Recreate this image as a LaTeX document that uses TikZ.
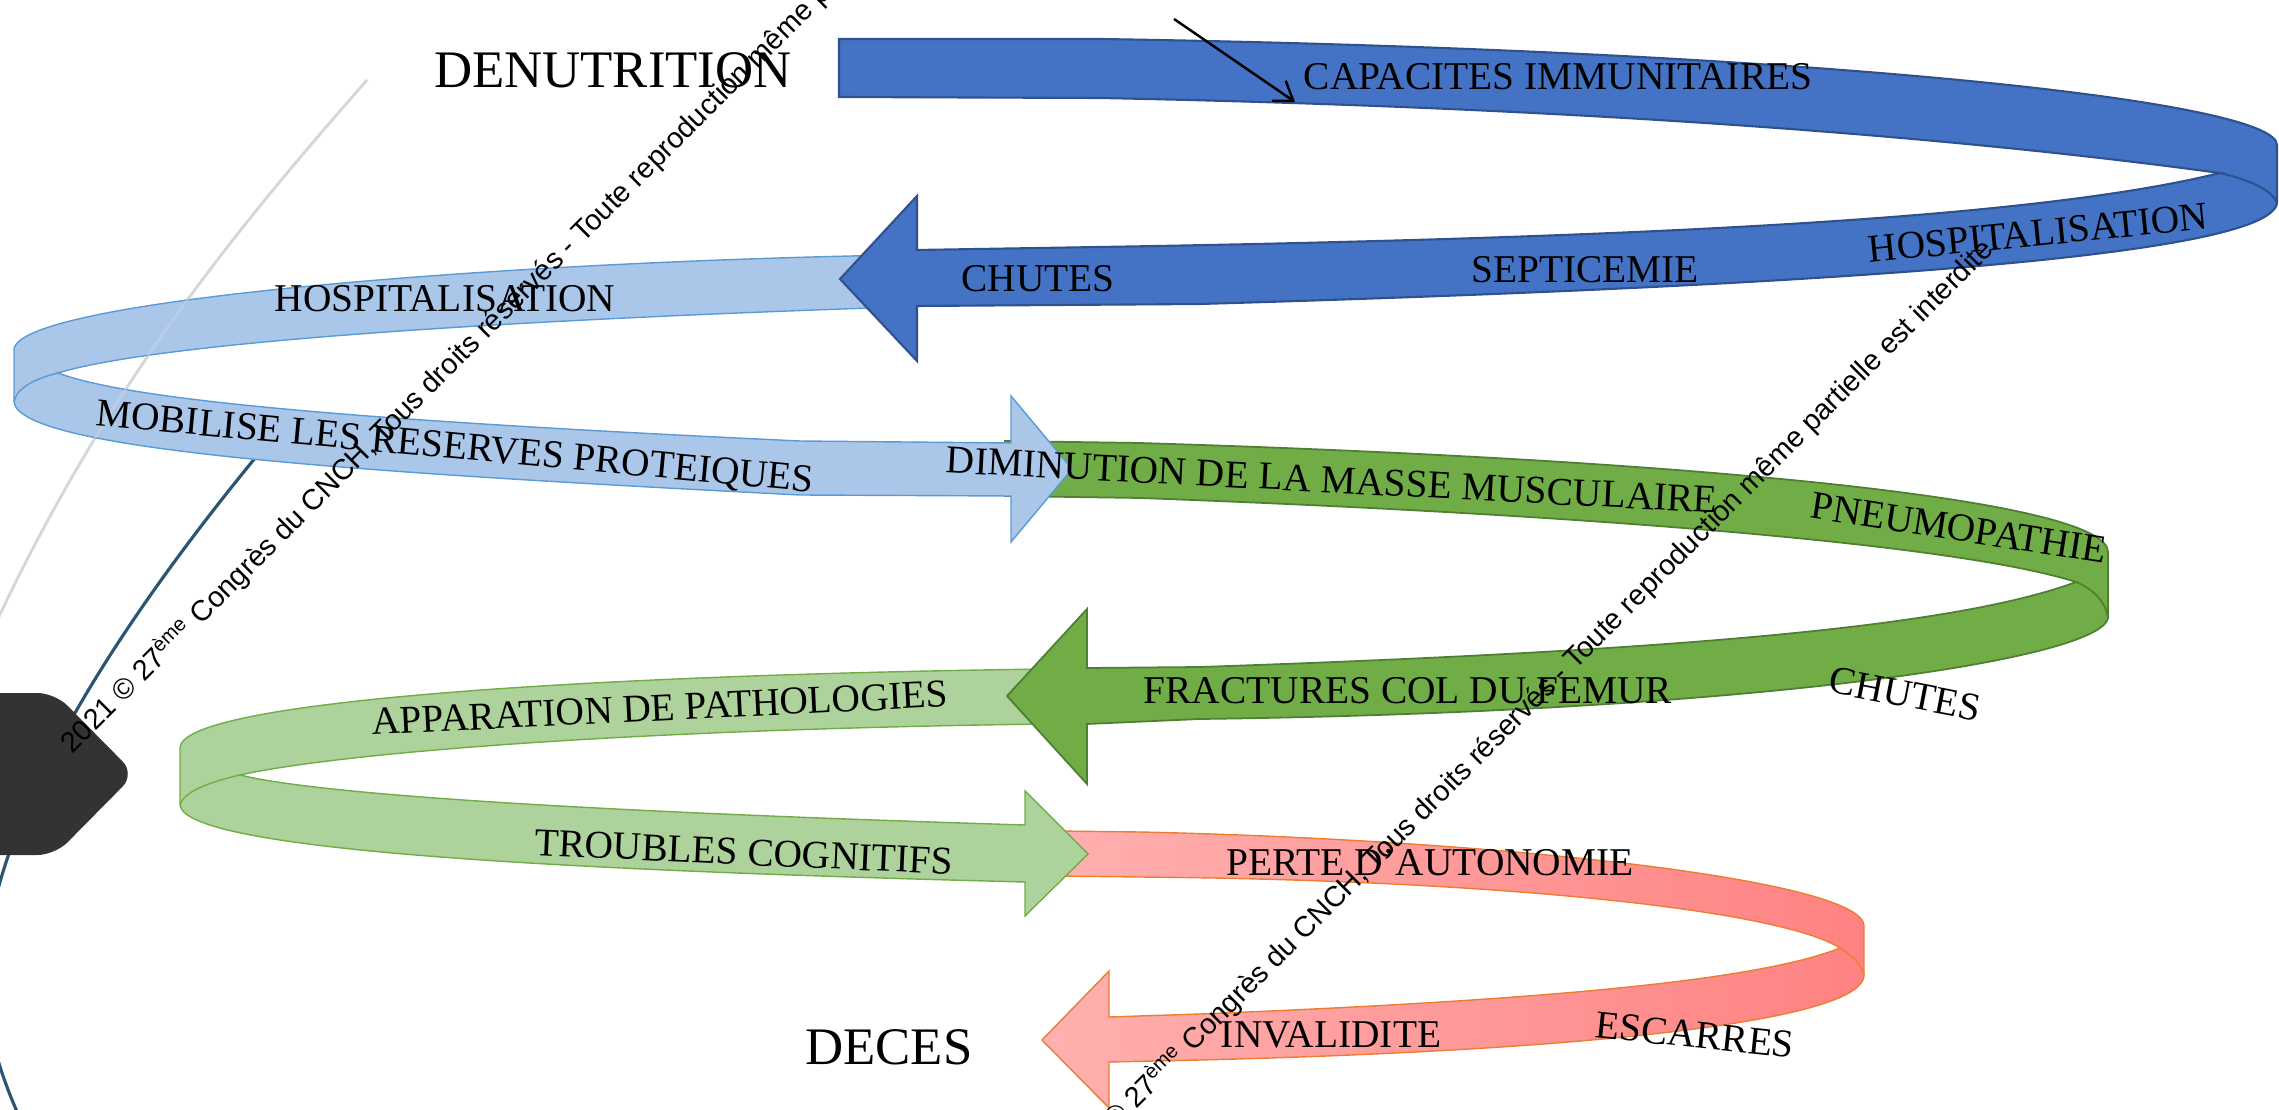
\documentclass[tikz,border=0pt]{standalone}
\usepackage{fontspec}
\setmainfont{Liberation Serif}
\newfontfamily\wmfont{Liberation Sans}
\usetikzlibrary{arrows.meta}

\definecolor{bandblue}{HTML}{4472C4}
\definecolor{edgeblue}{HTML}{2F528F}
\definecolor{bandsky}{HTML}{AAC6E9}
\definecolor{edgesky}{HTML}{5B9BD5}
\definecolor{bandgreen}{HTML}{70AD47}
\definecolor{edgegreen}{HTML}{507E32}
\definecolor{bandmint}{HTML}{AED29B}
\definecolor{edgemint}{HTML}{70AD47}
\definecolor{pinkL}{HTML}{FFB0B0}
\definecolor{pinkR}{HTML}{FF8282}
\definecolor{edgepink}{HTML}{ED7D31}
\definecolor{hexgrey}{HTML}{333333}
\definecolor{arcteal}{HTML}{2B5573}
\definecolor{arcgrey}{HTML}{D3D8DD}

\begin{document}
\begin{tikzpicture}[x=0.01cm, y=-0.01cm,
    lbl/.style={font=\fontsize{11.2}{13}\selectfont, inner sep=0pt},
    biglbl/.style={font=\fontsize{15}{18}\selectfont, inner sep=0pt},
    wmark/.style={font=\wmfont\fontsize{8.2}{10}\selectfont, anchor=base west, rotate=45, inner sep=0pt}]

    % Frame
    \useasboundingbox (0,0) rectangle (2279,1110);
    \clip (0,0) rectangle (2279,1110);

    % Background arcs and hexagon
    \draw[arcgrey, line width=0.8pt] (367,80) .. controls (240,225) and (110,380) .. (-5,625);
    \draw[arcteal, line width=0.9pt] (270,440) .. controls (120,620) and (-10,820) .. (-15,970)
        .. controls (-15,1030) and (0,1080) .. (35,1150);
    \fill[hexgrey, rounded corners=5] (-60,693) -- (55,693) -- (135,774) -- (55,855) -- (-60,855) -- cycle;

    % Pink band
    \shadedraw[left color=pinkL, right color=pinkR, draw=edgepink, line width=0.4pt]
        (1055,831) -- (1140,832) .. controls (1500,840) and (1864,880) .. (1864,926) -- (1864,976)
        .. controls (1860,1020) and (1600,1050) .. (1200,1060) -- (1109,1062) -- (1109,1108)
        -- (1042,1040) -- (1109,971) -- (1109,1017) -- (1200,1014)
        .. controls (1550,1000) and (1760,980) .. (1840,948)
        .. controls (1780,910) and (1500,880) .. (1140,877) -- (1055,876) -- cycle;
    \draw[edgepink, line width=0.4pt] (1840,948) .. controls (1852,955) and (1862,965) .. (1864,976);

    % Light green band
    \filldraw[fill=bandmint, draw=edgemint, line width=0.4pt]
        (1045,669) .. controls (600,675) and (180,700) .. (180,748) -- (180,805)
        .. controls (185,850) and (550,870) .. (1025,882) -- (1025,916) -- (1088,854)
        -- (1025,791) -- (1025,825)
        .. controls (600,812) and (320,795) .. (240,775)
        .. controls (330,755) and (600,730) .. (1045,724) -- cycle;
    \draw[edgemint, line width=0.4pt] (240,775) .. controls (205,783) and (183,793) .. (180,805);

    % Green band
    \filldraw[fill=bandgreen, draw=edgegreen, line width=0.5pt]
        (1005,441) -- (1140,443) .. controls (1700,460) and (2108,500) .. (2108,552) -- (2108,618)
        .. controls (2100,660) and (1750,712) .. (1200,719) -- (1087,724) -- (1087,784)
        -- (1007,696) -- (1087,609) -- (1087,668) -- (1200,667)
        .. controls (1700,650) and (1960,625) .. (2076,582)
        .. controls (1960,545) and (1600,515) .. (1140,498) -- (1005,496) -- cycle;
    \draw[edgegreen, line width=0.5pt] (2076,582) .. controls (2095,590) and (2106,603) .. (2108,618);

    % Light blue band
    \filldraw[fill=bandsky, draw=edgesky, line width=0.4pt]
        (900,255) .. controls (500,262) and (14,300) .. (14,350) -- (14,402)
        .. controls (20,450) and (350,472) .. (800,495) -- (1011,496) -- (1011,542)
        -- (1072,469) -- (1011,396) -- (1011,443) -- (800,441)
        .. controls (350,420) and (130,400) .. (58,373)
        .. controls (150,345) and (450,322) .. (900,307) -- cycle;
    \draw[edgesky, line width=0.4pt] (58,373) .. controls (30,380) and (16,390) .. (14,402);
    \draw[arcgrey, line width=0.8pt, opacity=0.4] (367,80) .. controls (240,225) and (110,380) .. (-5,625);

    % Blue band
    \filldraw[fill=bandblue, draw=edgeblue, line width=0.6pt]
        (839,39) -- (1100,39) .. controls (1800,50) and (2277,100) .. (2277,145) -- (2277,203)
        .. controls (2270,255) and (1850,285) .. (1200,304) -- (917,306) -- (917,361)
        -- (840,279) -- (917,196) -- (917,250) -- (1100,247)
        .. controls (1700,237) and (2050,215) .. (2220,173)
        .. controls (2050,150) and (1700,110) .. (1100,98) -- (839,97) -- cycle;
    \draw[edgeblue, line width=0.6pt] (2220,173) .. controls (2250,180) and (2272,190) .. (2277,203);

    % Labels
    \node[biglbl] (denut) at (613,70) {DENUTRITION};
    \node[biglbl] (deces) at (889,1047) {DECES};
    \node[lbl] (immun) at (1558,77) {CAPACITES IMMUNITAIRES};
    \node[lbl] (chuteA) at (1038,279) {CHUTES};
    \node[lbl] (septi) at (1585,270) {SEPTICEMIE};
    \node[lbl, rotate=5.7] (hospA) at (2038,233) {HOSPITALISATION};
    \node[lbl] (hospB) at (445,299) {HOSPITALISATION};
    \node[lbl, rotate=-5.3] (mobil) at (455,449) {MOBILISE LES RESERVES PROTEIQUES};
    \node[lbl, rotate=-3] (masse) at (1332,480) {DIMINUTION DE LA MASSE MUSCULAIRE};
    \node[lbl, rotate=-8.8] (pneumo) at (1959,528) {PNEUMOPATHIE};
    \node[lbl] (femur) at (1408,691) {FRACTURES COL DU FEMUR};
    \node[lbl, rotate=-11] (chuteB) at (1905,694) {CHUTES};
    \node[lbl, rotate=2.8] (patho) at (660,708) {APPARATION DE PATHOLOGIES};
    \node[lbl, rotate=-2.6] (cogni) at (744,852) {TROUBLES COGNITIFS};
    \node[lbl] (auton) at (1430,863) {PERTE D’AUTONOMIE};
    \node[lbl] (inval) at (1331,1035) {INVALIDITE};
    \node[lbl, rotate=-6] (escar) at (1695,1035) {ESCARRES};

    % Pointer
    \coordinate (ptrtail) at (1174,19);
    \coordinate (ptrhead) at (1295,102);
    \draw[-{Straight Barb[length=5pt,width=7pt]}, line width=0.7pt] (ptrtail) -- (ptrhead);

    % Watermark lines
    \node[wmark] (wmA) at (72,755) {2021 © 27\textsuperscript{ème} Congrès du CNCH, Tous droits réservés - Toute reproduction même partielle est interdite.};
    \node[wmark] (wmB) at (1064,1182) {2021 © 27\textsuperscript{ème} Congrès du CNCH, Tous droits réservés - Toute reproduction même partielle est interdite.};
\end{tikzpicture}
\end{document}
